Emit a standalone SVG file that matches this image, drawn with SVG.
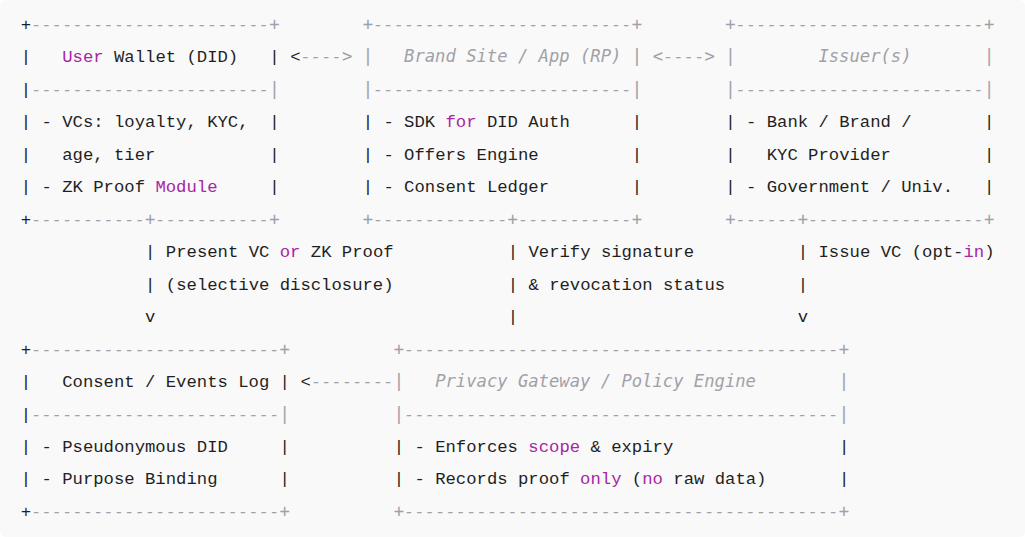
<svg xmlns="http://www.w3.org/2000/svg" width="1025" height="537" viewBox="0 0 1025 537" xml:space="preserve">
<style>
text { font-family: "Liberation Mono", "DejaVu Sans Mono", monospace; font-size: 17.26px; fill: #1f1f1f; white-space: pre; }
.k { fill: #a626a4; }
.c { fill: #a0a1a7; font-style: italic; font-family: "DejaVu Sans Mono", "Liberation Mono", monospace; font-size: 17.2px; }
</style>
<rect x="0" y="0" width="1025" height="537" fill="#ffffff"/>
<rect x="0" y="0" width="1025" height="537" rx="6" fill="#f9f9f9"/>

<g id="wallet">
<text y="30"><tspan x="20.8">+</tspan><tspan class="c">-----------------------+</tspan></text>
<text y="62.46"><tspan x="20.8">|   </tspan><tspan class="k">User</tspan><tspan> Wallet (DID)   |</tspan></text>
<text y="94.92"><tspan x="20.8">|</tspan><tspan class="c">-----------------------|</tspan></text>
<text y="127.38" x="20.8">| - VCs: loyalty, KYC,  |</text>
<text y="159.84" x="20.8">|   age, tier           |</text>
<text y="192.3"><tspan x="20.8">| - ZK Proof </tspan><tspan class="k">Module</tspan><tspan>     |</tspan></text>
<text y="224.76"><tspan x="20.8">+</tspan><tspan class="c">-----------+-----------+</tspan></text>
</g>

<g id="brand">
<text y="30" x="362.68" class="c">+-------------------------+</text>
<text y="62.46" x="362.68" class="c">|   Brand Site / App (RP) |</text>
<text y="94.92" x="362.68" class="c">|-------------------------|</text>
<text y="127.38"><tspan x="362.68">| - SDK </tspan><tspan class="k">for</tspan><tspan> DID Auth      |</tspan></text>
<text y="159.84" x="362.68">| - Offers Engine         |</text>
<text y="192.3" x="362.68">| - Consent Ledger        |</text>
<text y="224.76" x="362.68" class="c">+-------------+-----------+</text>
</g>

<g id="issuer">
<text y="30" x="725.28" class="c">+------------------------+</text>
<text y="62.46" x="725.28" class="c">|        Issuer(s)       |</text>
<text y="94.92" x="725.28" class="c">|------------------------|</text>
<text y="127.38" x="725.28">| - Bank / Brand /       |</text>
<text y="159.84" x="725.28">|   KYC Provider         |</text>
<text y="192.3" x="725.28">| - Government / Univ.   |</text>
<text y="224.76" x="725.28" class="c">+------+-----------------+</text>
</g>

<g id="consent-log">
<text y="354.6"><tspan x="20.8">+</tspan><tspan class="c">------------------------+</tspan></text>
<text y="387.06" x="20.8">|   Consent / Events Log |</text>
<text y="419.52"><tspan x="20.8">|</tspan><tspan class="c">------------------------|</tspan></text>
<text y="451.98" x="20.8">| - Pseudonymous DID     |</text>
<text y="484.44" x="20.8">| - Purpose Binding      |</text>
<text y="516.9"><tspan x="20.8">+</tspan><tspan class="c">------------------------+</tspan></text>
</g>

<g id="gateway">
<text y="354.6" x="393.76" class="c">+------------------------------------------+</text>
<text y="387.06" x="393.76" class="c">|   Privacy Gateway / Policy Engine        |</text>
<text y="419.52" x="393.76" class="c">|------------------------------------------|</text>
<text y="451.98"><tspan x="393.76">| - Enforces </tspan><tspan class="k">scope</tspan><tspan> &amp; expiry                |</tspan></text>
<text y="484.44"><tspan x="393.76">| - Records proof </tspan><tspan class="k">only</tspan><tspan> (</tspan><tspan class="k">no</tspan><tspan> raw data)       |</tspan></text>
<text y="516.9" x="393.76" class="c">+------------------------------------------+</text>
</g>

<g id="connectors">
<text y="62.46"><tspan x="290.16">&lt;</tspan><tspan class="c">----&gt;</tspan></text>
<text y="62.46" x="652.76" class="c">&lt;----&gt;</text>

<text y="257.22" x="145.12">|</text>
<text y="289.68" x="145.12">|</text>
<text y="322.14" x="145.12">v</text>
<text y="257.22"><tspan x="165.84">Present VC </tspan><tspan class="k">or</tspan><tspan> ZK Proof</tspan></text>
<text y="289.68" x="165.84">(selective disclosure)</text>

<text y="257.22" x="507.72">|</text>
<text y="289.68" x="507.72">|</text>
<text y="322.14" x="507.72">|</text>
<text y="257.22" x="528.44">Verify signature</text>
<text y="289.68" x="528.44">&amp; revocation status</text>

<text y="257.22" x="797.8">|</text>
<text y="289.68" x="797.8">|</text>
<text y="322.14" x="797.8">v</text>
<text y="257.22"><tspan x="818.52">Issue VC (opt-</tspan><tspan class="k">in</tspan><tspan>)</tspan></text>

<text y="387.06"><tspan x="300.52">&lt;</tspan><tspan class="c">--------</tspan></text>
</g>
</svg>
